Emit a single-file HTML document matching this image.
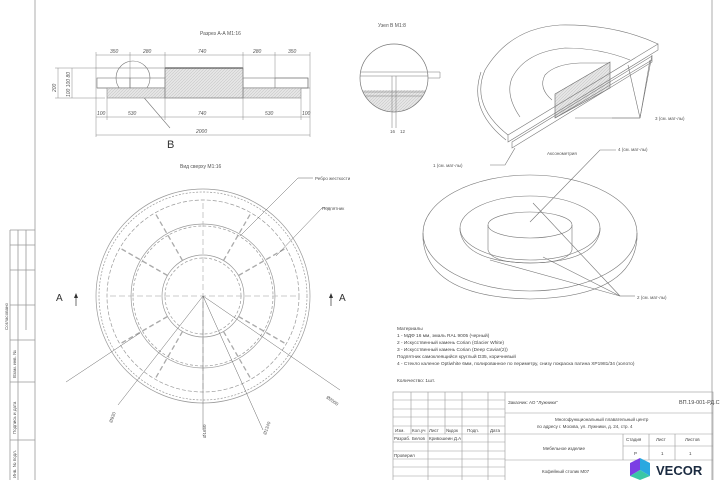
<!DOCTYPE html>
<html><head><meta charset="utf-8"><style>
html,body{margin:0;padding:0;background:#fff;width:720px;height:480px;overflow:hidden}
svg{display:block;font-family:"Liberation Sans",sans-serif}
</style></head><body>
<svg width="720" height="480" viewBox="0 0 720 480" xmlns="http://www.w3.org/2000/svg">
<defs>
<pattern id="h" width="3" height="3" patternUnits="userSpaceOnUse"><rect width="3" height="3" fill="#e6e6e6"/><path d="M0 3L3 0" stroke="#c8c8c8" stroke-width="0.6"/></pattern>
</defs>
<rect width="720" height="480" fill="#fff"/>
<!-- frame -->
<g stroke="#999" stroke-width="0.8" fill="none">
<line x1="35" y1="0" x2="35" y2="480"/>
<line x1="712" y1="0" x2="712" y2="480"/>
<line x1="10" y1="230" x2="10" y2="480"/>
<line x1="18" y1="230" x2="18" y2="480"/>
<line x1="26" y1="230" x2="26" y2="330"/>
<line x1="10" y1="230" x2="35" y2="230"/>
<line x1="10" y1="245" x2="35" y2="245"/>
<line x1="10" y1="270" x2="35" y2="270"/>
<line x1="10" y1="305" x2="35" y2="305"/>
<line x1="10" y1="340" x2="35" y2="340"/>
<line x1="10" y1="382" x2="35" y2="382"/>
<line x1="10" y1="440" x2="35" y2="440"/>
</g>
<g font-size="4.5" fill="#555">
<text transform="translate(8,330) rotate(-90)">Согласовано</text>
<text transform="translate(16,378) rotate(-90)">Взам. инв. №</text>
<text transform="translate(16,434) rotate(-90)">Подпись и дата</text>
<text transform="translate(16,478) rotate(-90)">Инв. № подл.</text>
</g>

<!-- Section A-A -->
<text x="200" y="35" font-size="5" fill="#555">Разрез А-А М1:16</text>
<g stroke="#777" stroke-width="0.6" fill="none">
<rect x="97" y="78" width="33" height="10"/>
<rect x="243" y="78" width="65" height="10"/>
<rect x="130" y="78" width="35" height="10"/>
<rect x="275" y="78" width="33" height="10"/>
<line x1="97" y1="88" x2="310" y2="88"/>
<line x1="95" y1="68" x2="165" y2="68"/>
<circle cx="133" cy="78" r="17"/>
<line x1="140" y1="93" x2="170" y2="128"/>
</g>
<rect x="107" y="88" width="58" height="10" fill="url(#h)" stroke="#888" stroke-width="0.6"/>
<rect x="243" y="88" width="58" height="10" fill="url(#h)" stroke="#888" stroke-width="0.6"/>
<rect x="165" y="68" width="78" height="30" fill="url(#h)" stroke="#777" stroke-width="0.7"/>
<line x1="165" y1="68" x2="243" y2="68" stroke="#333" stroke-width="1"/>
<g stroke="#888" stroke-width="0.5">
<line x1="96" y1="55" x2="310" y2="55"/>
<line x1="96" y1="117" x2="310" y2="117"/>
<line x1="96" y1="135" x2="310" y2="135"/>
<line x1="96" y1="52" x2="96" y2="137"/>
<line x1="310" y1="52" x2="310" y2="137"/>
<line x1="130" y1="52" x2="130" y2="78"/><line x1="165" y1="52" x2="165" y2="120"/>
<line x1="243" y1="52" x2="243" y2="120"/><line x1="275" y1="52" x2="275" y2="78"/>
<line x1="107" y1="98" x2="107" y2="120"/><line x1="301" y1="98" x2="301" y2="120"/>
<line x1="55" y1="68" x2="95" y2="68"/><line x1="55" y1="98" x2="105" y2="98"/>
<line x1="58" y1="68" x2="58" y2="98"/><line x1="72" y1="68" x2="72" y2="98"/>
</g>
<g font-size="5" fill="#555" font-style="italic">
<text x="110" y="53">350</text><text x="143" y="53">280</text><text x="198" y="53">740</text>
<text x="253" y="53">280</text><text x="288" y="53">350</text>
<text x="97" y="115">100</text><text x="128" y="115">530</text><text x="198" y="115">740</text>
<text x="265" y="115">530</text><text x="302" y="115">100</text>
<text x="196" y="133">2000</text>
<text transform="translate(56,92) rotate(-90)">200</text>
<text transform="translate(70,97) rotate(-90)">100 100 80</text>
</g>
<text x="167" y="148" font-size="11" fill="#333">B</text>

<!-- Node B -->
<text x="378" y="27" font-size="5" fill="#555">Узел В М1:8</text>
<clipPath id="c"><circle cx="394" cy="78" r="34"/></clipPath>
<g clip-path="url(#c)">
<rect x="355" y="90" width="80" height="30" fill="url(#h)"/>
<line x1="355" y1="72" x2="440" y2="72" stroke="#777" stroke-width="0.6"/>
<line x1="355" y1="76" x2="440" y2="76" stroke="#777" stroke-width="0.6"/>
<line x1="355" y1="92" x2="440" y2="92" stroke="#777" stroke-width="0.6"/>
<line x1="355" y1="96" x2="440" y2="96" stroke="#777" stroke-width="0.6"/>
</g>
<circle cx="394" cy="78" r="34" fill="none" stroke="#777" stroke-width="0.7"/>
<g stroke="#777" stroke-width="0.5" fill="none">
<line x1="392" y1="76" x2="392" y2="128"/><line x1="396" y1="76" x2="396" y2="128"/>
<polyline points="428,72 440,72 440,78 428,78"/>
</g>
<text x="390" y="133" font-size="4.5" fill="#555">16</text><text x="400" y="133" font-size="4.5" fill="#555">12</text>

<!-- Top view -->
<text x="180" y="168" font-size="5" fill="#555">Вид сверху М1:16</text>
<g fill="none" stroke="#999" stroke-width="0.7">
<circle cx="203" cy="296" r="107"/>
<circle cx="203" cy="296" r="104" stroke-dasharray="2 1.5"/>
<circle cx="203" cy="296" r="96" stroke-dasharray="4 2"/>
<circle cx="203" cy="296" r="72"/>
<circle cx="203" cy="296" r="70" stroke-dasharray="3 2"/>
<circle cx="203" cy="296" r="41"/>
<circle cx="203" cy="296" r="38" stroke-dasharray="3 2"/>
</g>
<g stroke="#bbb" stroke-width="0.8" stroke-dasharray="6 3">
<line x1="110" y1="296" x2="296" y2="296"/>
<line x1="203" y1="203" x2="203" y2="389"/>
</g>
<g stroke="#aaa" stroke-width="1.3" stroke-dasharray="5 3" transform="translate(203,296)">
<line x1="41" y1="0" x2="96" y2="0" transform="rotate(30)"/>
<line x1="41" y1="0" x2="96" y2="0" transform="rotate(60)"/>
<line x1="41" y1="0" x2="96" y2="0" transform="rotate(120)"/>
<line x1="41" y1="0" x2="96" y2="0" transform="rotate(150)"/>
<line x1="41" y1="0" x2="96" y2="0" transform="rotate(210)"/>
<line x1="41" y1="0" x2="96" y2="0" transform="rotate(240)"/>
<line x1="41" y1="0" x2="96" y2="0" transform="rotate(300)"/>
<line x1="41" y1="0" x2="96" y2="0" transform="rotate(330)"/>
</g>
<g stroke="#666" stroke-width="0.5" fill="none">
<line x1="203" y1="296" x2="118" y2="405"/>
<line x1="203" y1="296" x2="203" y2="430"/>
<line x1="203" y1="296" x2="263" y2="430"/>
<line x1="203" y1="296" x2="340" y2="390"/>
<line x1="66" y1="382" x2="140" y2="333"/>
<polyline points="240,236 298,178 313,178"/>
<polyline points="276,256 322,208 330,208"/>
</g>
<g font-size="4.5" fill="#555">
<text x="315" y="180">Ребро жесткости</text>
<text x="322" y="210">Подпятник</text>
<text transform="translate(112,423) rotate(-70)">Ø930</text>
<text transform="translate(206,438) rotate(-90)">Ø1650</text>
<text transform="translate(266,435) rotate(-70)">Ø1340</text>
<text transform="translate(326,398) rotate(35)">Ø2000</text>
</g>
<text x="56" y="301" font-size="10" fill="#333">A</text><text x="339" y="301" font-size="10" fill="#333">A</text>
<line x1="76" y1="294" x2="76" y2="306" stroke="#333" stroke-width="0.7"/><line x1="331" y1="294" x2="331" y2="306" stroke="#333" stroke-width="0.7"/>
<path d="M74 298L76 293L78 298Z M329 298L331 293L333 298Z" fill="#333"/>

<!-- Axonometry top -->
<g fill="none" stroke="#777" stroke-width="0.6">
<path d="M508 135 Q470 105 485 70 Q510 28 560 25 Q615 24 658 44"/>
<path d="M506 140 Q468 110 481 72"/>
<path d="M520 117 Q505 95 512 78 Q525 52 565 48 Q600 48 630 60"/>
<path d="M552 100 Q538 88 545 75 Q555 64 580 63 L610 63"/>
</g>
<polygon points="555,94 610,62 610,88 555,118" fill="url(#h)" stroke="#666" stroke-width="0.6"/>
<g fill="none" stroke="#777" stroke-width="0.6">
<polygon points="508,135 658,44 658,50 508,142"/>
<polygon points="512,142 652,56 652,62 512,148"/>
<line x1="555" y1="118" x2="652" y2="60"/>
<polyline points="612,118 640,118 652,55"/>
<line x1="640" y1="118" x2="628" y2="65"/>
<line x1="640" y1="118" x2="650" y2="60"/>
<line x1="640" y1="118" x2="575" y2="118"/>
<polyline points="490,165 505,165 515,148"/>
</g>
<g font-size="4.5" fill="#555">
<text x="655" y="120">3 (см. мат-лы)</text>
<text x="433" y="167">1 (см. мат-лы)</text>
<text x="547" y="155">Аксонометрия</text>
<text x="618" y="151">4 (см. мат-лы)</text>
<text x="637" y="299">2 (см. мат-лы)</text>
</g>

<!-- Axonometry bottom -->
<g fill="none" stroke="#777" stroke-width="0.6">
<ellipse cx="530" cy="233" rx="107" ry="58"/>
<path d="M423 233 L423 239 Q428 297 530 299 Q632 297 637 239 L637 233"/>
<ellipse cx="530" cy="228" rx="70" ry="32"/>
<path d="M460 228 L460 231 Q465 262 530 263 Q595 262 600 231 L600 228"/>
<ellipse cx="530" cy="225" rx="42" ry="13" fill="#fff"/>
<path d="M488 225 L488 250 Q492 263 530 263 Q568 263 572 250 L572 225"/>
<polyline points="530,222 600,150 616,150"/>
<line x1="533" y1="203" x2="620" y2="296"/>
<line x1="490" y1="260" x2="620" y2="296"/>
<line x1="543" y1="257" x2="620" y2="296"/>
<line x1="620" y1="296" x2="635" y2="296"/>
</g>

<!-- Notes -->
<g font-size="4.8" fill="#444">
<text x="397" y="330">Материалы</text>
<text x="397" y="337">1 - МДФ 16 мм, эмаль RAL 9005 (черный)</text>
<text x="397" y="344">2 - Искусственный камень Corian (Glacier White)</text>
<text x="397" y="351">3 - Искусственный камень Corian (Deep Caviar(2))</text>
<text x="397" y="358">Подпятник самоклеящийся круглый D35, коричневый</text>
<text x="397" y="365">4 - Стекло каленое Optiwhite 6мм, полированное по периметру, снизу покраска патина XP1981/34 (золото)</text>
<text x="397" y="382">Количество: 1шт.</text>
</g>

<!-- Title block -->
<g stroke="#999" stroke-width="0.6" fill="none">
<rect x="393" y="392" width="320" height="90"/>
<line x1="505" y1="392" x2="505" y2="480"/>
<line x1="411" y1="392" x2="411" y2="434"/><line x1="428" y1="392" x2="428" y2="480"/>
<line x1="445" y1="392" x2="445" y2="434"/><line x1="462" y1="392" x2="462" y2="480"/>
<line x1="488" y1="392" x2="488" y2="480"/>
<line x1="393" y1="400" x2="505" y2="400"/><line x1="393" y1="409" x2="505" y2="409"/>
<line x1="393" y1="417" x2="505" y2="417"/><line x1="393" y1="426" x2="505" y2="426"/>
<line x1="393" y1="434" x2="505" y2="434"/><line x1="393" y1="442" x2="505" y2="442"/>
<line x1="393" y1="451" x2="505" y2="451"/><line x1="393" y1="459" x2="505" y2="459"/>
<line x1="393" y1="467" x2="505" y2="467"/><line x1="393" y1="476" x2="505" y2="476"/>
<line x1="505" y1="413" x2="713" y2="413"/><line x1="505" y1="434" x2="713" y2="434"/>
<line x1="505" y1="460" x2="713" y2="460"/><line x1="623" y1="446" x2="713" y2="446"/>
<line x1="623" y1="434" x2="623" y2="460"/><line x1="649" y1="434" x2="649" y2="460"/>
<line x1="675" y1="434" x2="675" y2="460"/>
</g>
<g font-size="4.5" fill="#444">
<text x="395" y="432">Изм.</text><text x="412" y="432">Кол.уч</text><text x="429" y="432">Лист</text><text x="446" y="432">№док</text><text x="467" y="432">Подп.</text><text x="490" y="432">Дата</text>
<text x="394" y="440">Разраб.</text><text x="412" y="440">Белов</text><text x="429" y="440">Кривошеин Д.А</text>
<text x="394" y="457">Проверил</text>
<text x="508" y="404">Заказчик: АО "Лужники"</text>
<text x="679" y="404" font-size="5.5">ВП.19-001-РД.С</text>
<text x="555" y="421">Многофункциональный плавательный центр</text>
<text x="537" y="428">по адресу г. Москва, ул. Лужники, д. 24, стр. 4</text>
<text x="543" y="450">Мебельное изделие</text>
<text x="626" y="441">Стадия</text><text x="656" y="441">Лист</text><text x="685" y="441">Листов</text>
<text x="634" y="455">Р</text><text x="661" y="455">1</text><text x="689" y="455">1</text>
<text x="542" y="473">Кофейный столик М07</text>
</g>
<!-- VECOR logo -->
<g>
<polygon points="630,463 640,458 640,470 630,476" fill="#7b3fe4"/>
<polygon points="640,458 650,463 650,476 640,470" fill="#2aa8e0"/>
<polygon points="630,476 640,470 650,476 640,480" fill="#3bc7a5"/>
</g>
<text x="656" y="475" font-size="13" font-weight="bold" fill="#1a2a40">VECOR</text>
</svg>
</body></html>
